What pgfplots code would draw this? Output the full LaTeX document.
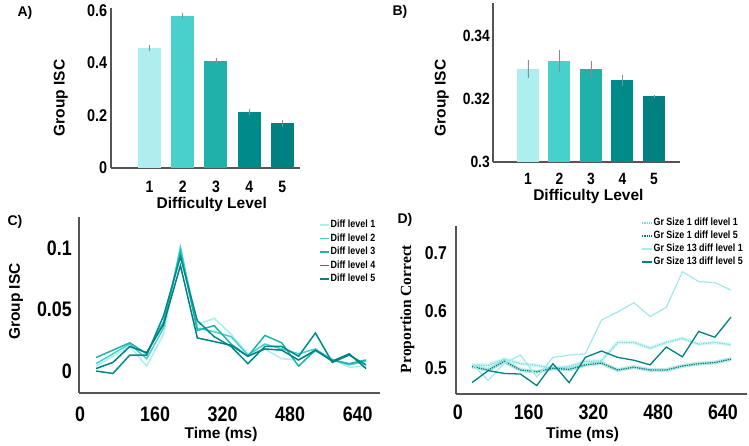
\documentclass[border=0pt]{standalone}
\usepackage{fontspec}
\setmainfont{Liberation Sans}
\newfontfamily\tickfont[FakeStretch=0.85]{Liberation Sans}
\newfontfamily\serifb{Liberation Serif}
\usepackage{pgfplots}
\usepackage{pgfplotstable}
\pgfplotsset{compat=1.18}
\definecolor{c1}{HTML}{AFEEEE}
\definecolor{c2}{HTML}{48D1CC}
\definecolor{c3}{HTML}{20B2AA}
\definecolor{c4}{HTML}{008B8B}
\definecolor{c5}{HTML}{008080}
\definecolor{axc}{HTML}{555555}
\newcommand{\lab}{\bfseries\fontsize{15.5}{15.5}\selectfont}
\newcommand{\tf}[1]{\tickfont\bfseries\fontsize{#1}{#1}\selectfont}
\pgfplotsset{
  base/.style={scale only axis, axis x line=bottom, axis y line=left,
    axis line style={-, draw=axc, line width=1.3pt},
    major tick length=0pt, tick style={draw=none},
    xticklabel style={inner sep=0pt, anchor=north},
    yticklabel style={inner sep=0pt, anchor=east},
    xlabel style={font=\lab, anchor=center, inner sep=0pt},
    ylabel style={font=\lab, anchor=center, inner sep=0pt},
  },
  bars/.style={ybar, bar width=#1, draw=none, bar shift=0pt,
    error bars/y dir=both, error bars/y explicit, error bars/error mark=none,
    error bars/error bar style={line width=0.6pt, black!45}},
}
\pgfplotstableread{
t L1 L2 L3 L4 L5
20 0.004 0.006 0.011 0.000 0.002
60 0.012 0.014 0.017 -0.002 0.007
100 0.020 0.022 0.023 0.013 0.020
140 0.004 0.010 0.014 0.013 0.015
180 0.030 0.035 0.040 0.045 0.038
220 0.100 0.101 0.097 0.093 0.086
260 0.038 0.035 0.033 0.041 0.027
300 0.043 0.032 0.037 0.028 0.024
340 0.030 0.028 0.022 0.020 0.021
380 0.014 0.013 0.012 0.006 0.012
420 0.018 0.022 0.029 0.020 0.018
460 0.010 0.018 0.023 0.020 0.017
500 0.009 0.014 0.004 0.012 0.009
540 0.016 0.018 0.017 0.031 0.017
580 0.010 0.009 0.009 0.007 0.008
620 0.003 0.005 0.006 0.013 0.014
660 0.004 0.008 0.009 0.005 0.002
}\tabC
\pgfplotstableread{
t G1a G1e G13a G13e
20 0.506 0.503 0.5075 0.475
60 0.505 0.497 0.479 0.496
100 0.516 0.512 0.509 0.491
140 0.508 0.497 0.523 0.490
180 0.505 0.494 0.485 0.470
220 0.500 0.500 0.519 0.508
260 0.503 0.498 0.523 0.475
300 0.512 0.506 0.525 0.519
340 0.513 0.509 0.584 0.530
380 0.545 0.497 0.598 0.519
420 0.545 0.502 0.614 0.514
460 0.535 0.497 0.590 0.506
500 0.545 0.497 0.606 0.537
540 0.552 0.504 0.668 0.520
580 0.542 0.508 0.651 0.564
620 0.545 0.510 0.649 0.554
660 0.541 0.516 0.636 0.589
}\tabD
\begin{document}
\begin{tikzpicture}
\path[use as bounding box] (0,0) rectangle (749pt,446pt);
\node[font=\bfseries\fontsize{14}{14}\selectfont] at (25pt,433pt) {A)};
\node[font=\bfseries\fontsize{14}{14}\selectfont] at (400pt,434pt) {B)};
\node[font=\bfseries\fontsize{14}{14}\selectfont] at (15pt,224pt) {C)};
\node[font=\bfseries\fontsize{14}{14}\selectfont] at (405pt,226pt) {D)};
% ---------- A
\begin{axis}[base, at={(111pt,278pt)}, anchor=south west,
  width=189pt, height=160pt,
  xmin=-0.158, xmax=5.53, ymin=0, ymax=0.61,
  xtick={1,2,3,4,5}, xticklabels={1,2,3,4,5},
  ytick={0,0.2,0.4,0.6}, yticklabels={0,0.2,0.4,0.6},
  xticklabel style={font=\tf{16.5}, yshift=-13pt},
  yticklabel style={font=\tf{17}, xshift=-3.7pt},
  xlabel={Difficulty Level}, ylabel={Group ISC},
  xlabel style={at={(axis description cs:0.533,-0.226)}},
  ylabel style={at={(axis description cs:-0.266,0.4375)}},
]
\addplot[bars=23pt, fill=c1] coordinates {(1,0.457) +- (0,0.0125)};
\addplot[bars=23pt, fill=c2] coordinates {(2,0.579) +- (0,0.011)};
\addplot[bars=23pt, fill=c3] coordinates {(3,0.408) +- (0,0.0125)};
\addplot[bars=23pt, fill=c4] coordinates {(4,0.213) +- (0,0.012)};
\addplot[bars=23pt, fill=c5] coordinates {(5,0.171) +- (0,0.013)};
\end{axis}
% ---------- B
\begin{axis}[base, at={(493pt,284pt)}, anchor=south west,
  width=187pt, height=159pt,
  xmin=-0.111, xmax=5.83, ymin=0.3, ymax=0.3505,
  xtick={1,2,3,4,5}, xticklabels={1,2,3,4,5},
  ytick={0.3,0.32,0.34}, yticklabels={0.3,0.32,0.34},
  xticklabel style={font=\tf{16.3}, yshift=-11pt},
  yticklabel style={font=\tf{16.3}, xshift=-3pt},
  xlabel={Difficulty Level}, ylabel={Group ISC},
  xlabel style={at={(axis description cs:0.51,-0.218)}},
  ylabel style={at={(axis description cs:-0.274,0.4025)}},
]
\addplot[bars=22pt, fill=c1] coordinates {(1,0.3295) +- (0,0.0028)};
\addplot[bars=22pt, fill=c2] coordinates {(2,0.3321) +- (0,0.0035)};
\addplot[bars=22pt, fill=c3] coordinates {(3,0.3294) +- (0,0.0028)};
\addplot[bars=22pt, fill=c4] coordinates {(4,0.3259) +- (0,0.0017)};
\addplot[bars=22pt, fill=c5] coordinates {(5,0.3209) +- (0,0.0005)};
\end{axis}
% ---------- C
\begin{axis}[base, at={(79pt,53pt)}, anchor=south west,
  width=301pt, height=176pt,
  xmin=-20.4, xmax=693, ymin=-0.0179, ymax=0.1255,
  xtick={160,320,480,640}, xticklabels={160,320,480,640},
  extra x ticks={0}, extra x tick labels={0},
  extra x tick style={xticklabel style={xshift=-7.6pt}},
  ytick={0,0.05,0.1}, yticklabels={0,0.05,0.1},
  xticklabel style={font=\tf{21}, yshift=-14pt},
  yticklabel style={font=\tf{21}, xshift=-7pt},
  xlabel={Time (ms)}, ylabel={Group ISC},
  xlabel style={at={(axis description cs:0.472,-0.237)}},
  ylabel style={at={(axis description cs:-0.209,0.519)}},
  legend style={at={(axis description cs:0.797,0.98)}, anchor=north west,
    draw=none, fill=none, inner sep=0pt, row sep=4.5pt, column sep=1pt,
    font=\tf{10.5}, nodes={inner sep=0pt, text height=7pt, text depth=2pt}},
  legend cell align=left,
  legend image code/.code={\draw[#1] (0pt,0pt) -- (9pt,0pt);},
  every axis plot/.append style={line width=1.5pt},
]
\addplot[c1] table[x=t,y=L1] {\tabC};
\addplot[c2] table[x=t,y=L2] {\tabC};
\addplot[c3] table[x=t,y=L3] {\tabC};
\addplot[c4] table[x=t,y=L4] {\tabC};
\addplot[c5] table[x=t,y=L5] {\tabC};
\legend{Diff level 1,Diff level 2,Diff level 3,Diff level 4,Diff level 5}
\end{axis}
% ---------- D
\begin{axis}[base, at={(456pt,52pt)}, anchor=south west,
  width=291pt, height=168pt,
  xmin=-19.5, xmax=699.5, ymin=0.4553, ymax=0.7475,
  xtick={160,320,480,640}, xticklabels={160,320,480,640},
  extra x ticks={0}, extra x tick labels={0},
  extra x tick style={xticklabel style={xshift=-6pt}},
  ytick={0.5,0.6,0.7}, yticklabels={0.5,0.6,0.7},
  xticklabel style={font=\tf{21}, yshift=-11pt},
  yticklabel style={font=\tf{18.6}, xshift=-9pt},
  xlabel={Time (ms)}, ylabel={Proportion Correct},
  xlabel style={at={(axis description cs:0.435,-0.239)}},
  ylabel style={font=\serifb\bfseries\fontsize{15.5}{15.5}\selectfont, at={(axis description cs:-0.167,0.506)}},
  legend style={at={(axis description cs:0.636,1.045)}, anchor=north west,
    draw=none, fill=none, inner sep=0pt, row sep=4pt, column sep=1pt,
    font=\tf{10.5}, nodes={inner sep=0pt, text height=7pt, text depth=2pt}},
  legend cell align=left,
  legend image code/.code={\draw[#1] (0pt,0pt) -- (10pt,0pt);},
  clip=false,
]
\addplot[c1, line width=4pt, opacity=0.45, forget plot] table[x=t,y=G1a] {\tabD};
\addplot[c3, line width=4pt, opacity=0.3, forget plot] table[x=t,y=G1e] {\tabD};
\addplot[c2!60!c1, line width=1.3pt, densely dotted] table[x=t,y=G1a] {\tabD};
\addplot[c5, line width=1.3pt, densely dotted] table[x=t,y=G1e] {\tabD};
\addplot[c1!90!c2, line width=1.3pt] table[x=t,y=G13a] {\tabD};
\addplot[c5, line width=1.3pt] table[x=t,y=G13e] {\tabD};
\legend{Gr Size 1 diff level 1,Gr Size 1 diff level 5,Gr Size 13 diff level 1,Gr Size 13 diff level 5}
\end{axis}
\end{tikzpicture}
\end{document}
